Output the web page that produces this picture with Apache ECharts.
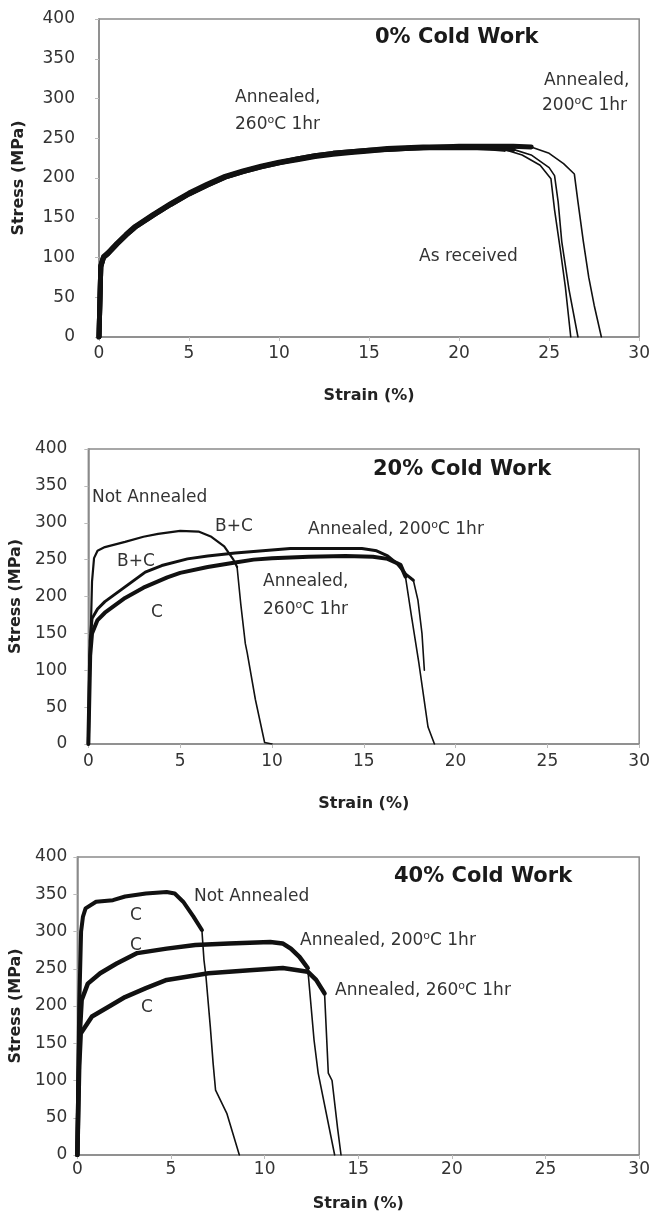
<!DOCTYPE html>
<html><head><meta charset="utf-8">
<script src="https://cdn.jsdelivr.net/npm/echarts@6/dist/echarts.min.js"></script>
<style>html,body{margin:0;padding:0;background:#fff}#c{width:653px;height:1213px}</style>
</head><body><div id="c"></div>
<script>
// ---------- DATA ----------
const xTicks = [0, 5, 10, 15, 20, 25, 30];
const yTicks = [0, 50, 100, 150, 200, 250, 300, 350, 400];
const panelTitles = ['0% Cold Work', '20% Cold Work', '40% Cold Work'];
const xName = 'Strain (%)';
const yName = 'Stress (MPa)';

// Panel 1: 0% cold work  [strain %, stress MPa]
const cw0AsReceivedFlow = [[0,0],[0.1,88],[0.25,100],[0.5,105],[1,117],[1.5,128],[2,138],[3,153],[4,167],[5,180],[6,191],[7,201],[8,208],[9,214],[10,219],[11,223],[12,227],[13,230],[14,232],[15,234],[16,236],[17,237],[18,238],[19,238],[20,238],[21,238],[22,237],[22.5,236]];
const cw0AsReceivedFracture = [[22.5,236],[23.5,229],[24.5,216],[25.1,199],[25.3,160],[25.6,113],[25.9,63],[26.2,0]];
const cw0Ann260Flow = [[0,0],[0.1,90],[0.25,101],[0.5,106],[1,118],[1.5,129],[2,139],[3,154],[4,168],[5,181],[6,192],[7,202],[8,209],[9,215],[10,220],[11,224],[12,228],[13,231],[14,233],[15,235],[16,236],[17,237],[18,238],[19,239],[20,239],[21,239],[22,238],[23,236]];
const cw0Ann260Fracture = [[23,236],[24,229],[25,213],[25.3,203],[25.5,170],[25.7,120],[26.1,60],[26.6,0]];
const cw0Ann200Flow = [[0,0],[0.1,89],[0.25,100],[0.5,105],[1,117],[1.5,128],[2,138],[3,153],[4,167],[5,180],[6,191],[7,201],[8,208],[9,214],[10,219],[11,224],[12,228],[13,231],[14,233],[15,235],[16,237],[17,238],[18,239],[19,239],[20,240],[21,240],[22,240],[23,240],[24,239]];
const cw0Ann200Fracture = [[24,239],[25,231],[25.8,218],[26.4,205],[26.6,170],[26.9,120],[27.2,75],[27.5,40],[27.9,0]];

// Panel 2: 20% cold work
const cw20NotAnnFlow = [[0,0],[0.1,120],[0.2,220],[0.31,252],[0.5,262],[0.9,267],[2,274],[3,281],[3.8,285],[5,289],[6,288],[6.7,281],[7.4,268],[7.9,250],[8.1,240]];
const cw20NotAnnFracture = [[8.1,240],[8.3,190],[8.55,136],[8.65,124],[9.1,60],[9.6,2],[10,0]];
const cw20Ann200Flow = [[0,0],[0.1,140],[0.2,170],[0.5,183],[0.9,193],[2,213],[3.1,233],[4,242],[5.4,251],[6.5,255],[8,259],[9.5,262],[11,265],[13,265],[14.9,265],[15.7,262],[16.3,255],[16.8,245],[17.3,230],[17.7,222]];
const cw20Ann200Fracture = [[17.7,222],[17.95,195],[18.17,150],[18.3,100]];
const cw20Ann260Flow = [[0,0],[0.1,120],[0.2,150],[0.5,168],[0.9,178],[2,198],[3,212],[4.3,226],[5,232],[6.5,240],[8,246],[9,250],[10,252],[12,254],[14,255],[15.5,254],[16.3,251],[17,243],[17.27,227]];
const cw20Ann260Fracture = [[17.27,227],[17.6,173],[18,110],[18.5,23],[18.85,0]];

// Panel 3: 40% cold work
const cw40NotAnnFlow = [[0,0],[0.1,200],[0.2,300],[0.3,320],[0.44,331],[1,340],[1.9,342],[2.55,347],[3.66,351],[4.77,353],[5.2,351],[5.65,340],[6.2,320],[6.65,302]];
const cw40NotAnnFracture = [[6.65,302],[6.76,262],[6.87,239],[7.1,172],[7.25,123],[7.38,87],[7.98,56],[8.65,0]];
const cw40Ann200Flow = [[0,0],[0.1,150],[0.23,208],[0.56,230],[1.22,244],[2.1,257],[3.2,271],[4.77,277],[6.3,282],[8.1,284],[10.3,286],[10.96,284],[11.4,277],[11.86,266],[12.3,251]];
const cw40Ann200Fracture = [[12.3,251],[12.64,154],[12.86,110],[13.74,0]];
const cw40Ann260Flow = [[0,0],[0.1,120],[0.18,163],[0.78,186],[1.67,199],[2.55,212],[3.66,224],[4.77,235],[7,244],[9.2,248],[10.97,251],[12.3,246],[12.75,235],[13.2,217]];
const cw40Ann260Fracture = [[13.2,217],[13.4,110],[13.6,100],[13.9,35],[14.08,0]];

// ---------- LAYOUT ----------
const FONT = 'DejaVu Sans';
const grids = [
  {left: 99, top: 19, width: 542, height: 318, yLabelMargin: 24, xLabelMargin: 8, xNameGap: 51, yNameGap: 72},
  {left: 88, top: 449, width: 553, height: 295, yLabelMargin: 21, xLabelMargin: 9, xNameGap: 52, yNameGap: 61},
  {left: 77, top: 857, width: 564, height: 298, yLabelMargin: 10, xLabelMargin: 6, xNameGap: 41, yNameGap: 49}
];

const panels = [
  [[cw0AsReceivedFlow, 5], [cw0AsReceivedFracture, 1.6], [cw0Ann260Flow, 5], [cw0Ann260Fracture, 1.6], [cw0Ann200Flow, 5], [cw0Ann200Fracture, 1.6]],
  [[cw20NotAnnFlow, 2.2], [cw20NotAnnFracture, 1.6], [cw20Ann200Flow, 3], [cw20Ann200Fracture, 1.6], [cw20Ann260Flow, 4], [cw20Ann260Fracture, 1.6]],
  [[cw40NotAnnFlow, 4], [cw40NotAnnFracture, 1.6], [cw40Ann200Flow, 4.5], [cw40Ann200Fracture, 1.6], [cw40Ann260Flow, 4.5], [cw40Ann260Fracture, 1.6]]
];

const xAxes = [], yAxes = [], gridOpts = [], series = [];
grids.forEach((g, i) => {
  gridOpts.push({left: g.left, top: g.top, width: g.width, height: g.height, show: true, borderColor: '#8a8a8a', borderWidth: 1.5, backgroundColor: '#fff', containLabel: false});
  xAxes.push({
    type: 'value', gridIndex: i, min: xTicks[0], max: xTicks[xTicks.length - 1], interval: xTicks[1] - xTicks[0],
    name: xName, nameLocation: 'middle', nameGap: g.xNameGap,
    nameTextStyle: {fontFamily: FONT, fontSize: 16, fontWeight: 'bold', color: '#222'},
    axisLine: {show: true, lineStyle: {color: '#8a8a8a', width: 1.5}},
    axisTick: {show: true, length: 4, lineStyle: {color: '#bbb'}},
    axisLabel: {fontFamily: FONT, fontSize: 17, color: '#333', margin: g.xLabelMargin, showMaxLabel: true, showMinLabel: true},
    splitLine: {show: false}
  });
  yAxes.push({
    type: 'value', gridIndex: i, min: yTicks[0], max: yTicks[yTicks.length - 1], interval: yTicks[1] - yTicks[0],
    name: yName, nameLocation: 'middle', nameGap: g.yNameGap, nameRotate: 90,
    nameTextStyle: {fontFamily: FONT, fontSize: 16, fontWeight: 'bold', color: '#222'},
    axisLine: {show: true, lineStyle: {color: '#8a8a8a', width: 1.5}},
    axisTick: {show: true, length: 4, lineStyle: {color: '#bbb'}},
    axisLabel: {fontFamily: FONT, fontSize: 17, color: '#333', margin: g.yLabelMargin},
    splitLine: {show: false}
  });
  panels[i].forEach(([data, w]) => {
    series.push({type: 'line', xAxisIndex: i, yAxisIndex: i, data: data, showSymbol: false, symbol: 'none', silent: true,
      lineStyle: {color: '#111', width: w, join: 'round', cap: 'round'}, animation: false});
  });
});

// ---------- ANNOTATIONS ----------
const rich = {s: {fontFamily: FONT, fontSize: 11, fill: '#333', verticalAlign: 'top', lineHeight: 20}};
function txt(text, x, y, opts) {
  return Object.assign({type: 'text', x: x, y: y, silent: true, style: {
    text: text, fontFamily: FONT, fontSize: 17, fill: '#333', textVerticalAlign: 'middle', textAlign: 'left', lineHeight: 20, rich: rich
  }}, opts || {});
}
function title(text, x, y) {
  return {type: 'text', x: x, y: y, silent: true, style: {text: text, fontFamily: FONT, fontSize: 21, fontWeight: 'bold', fill: '#1a1a1a', textVerticalAlign: 'middle', textAlign: 'left'}};
}
const graphic = [
  title(panelTitles[0], 375, 38),
  txt('Annealed,', 235, 98), txt('260{s|o}C 1hr', 235, 125),
  txt('Annealed,', 544, 81), txt('200{s|o}C 1hr', 542, 106),
  txt('As received', 419, 257),

  title(panelTitles[1], 373, 470),
  txt('Not Annealed', 92, 498),
  txt('B+C', 215, 527),
  txt('Annealed, 200{s|o}C 1hr', 308, 530),
  txt('B+C', 117, 562),
  txt('Annealed,', 263, 582), txt('260{s|o}C 1hr', 263, 610),
  txt('C', 151, 613),

  title(panelTitles[2], 394, 877),
  txt('Not Annealed', 194, 897),
  txt('C', 130, 916),
  txt('C', 130, 946),
  txt('Annealed, 200{s|o}C 1hr', 300, 941),
  txt('Annealed, 260{s|o}C 1hr', 335, 991),
  txt('C', 141, 1008)
];

const chart = echarts.init(document.getElementById('c'), null, {renderer: 'canvas'});
chart.setOption({
  animation: false,
  backgroundColor: '#fff',
  grid: gridOpts,
  xAxis: xAxes,
  yAxis: yAxes,
  series: series,
  graphic: graphic
});
</script>
</body></html>
